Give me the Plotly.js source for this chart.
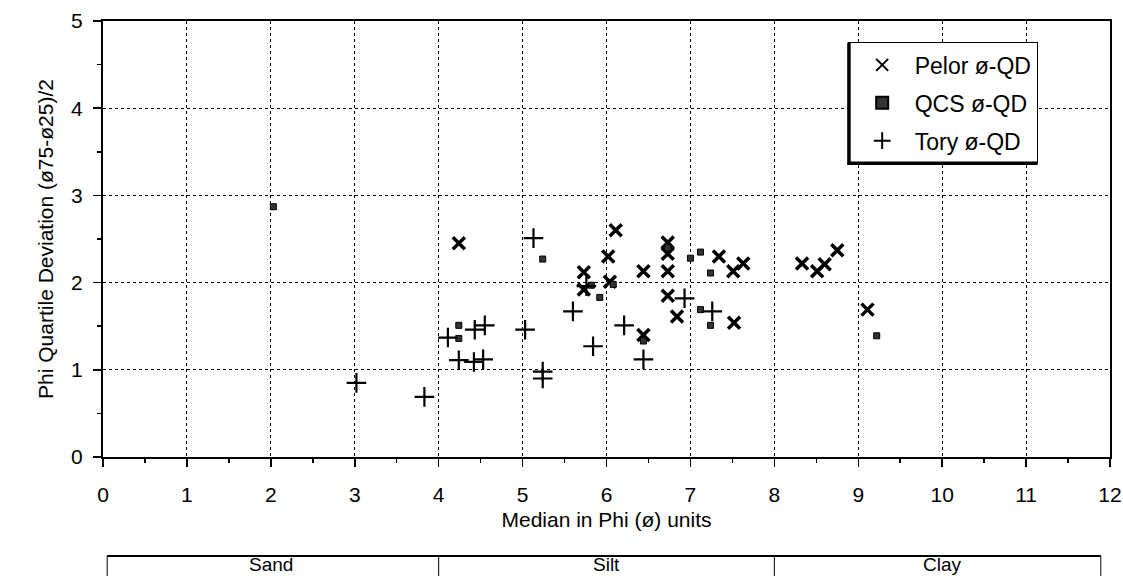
<!DOCTYPE html>
<html>
<head>
<meta charset="utf-8">
<script src="https://cdn.plot.ly/plotly-3.0.1.min.js"></script>
<style>html,body{margin:0;padding:0;background:#fff;}#chart{width:1123px;height:576px;}</style>
</head>
<body>
<div id="chart"></div>
<script>
// Pelor ø-QD
const pelorX = [4.24, 5.73, 5.73, 6.02, 6.11, 6.04, 6.44, 6.44, 6.73, 6.73, 6.73, 6.73, 6.84, 7.34, 7.51, 7.63, 7.52, 8.33, 8.51, 8.60, 8.75, 9.11];
const pelorY = [2.45, 2.12, 1.92, 2.30, 2.60, 2.01, 2.13, 1.40, 2.46, 2.33, 2.13, 1.85, 1.61, 2.30, 2.13, 2.22, 1.54, 2.22, 2.13, 2.21, 2.37, 1.69];
// QCS ø-QD
const qcsX = [2.03, 4.24, 4.24, 5.24, 5.82, 5.92, 6.08, 6.44, 6.73, 7.00, 7.12, 7.24, 7.12, 7.24, 9.22];
const qcsY = [2.87, 1.51, 1.36, 2.27, 1.97, 1.83, 1.98, 1.33, 2.40, 2.28, 2.35, 2.11, 1.69, 1.51, 1.39];
// Tory ø-QD
const toryX = [3.02, 3.83, 4.11, 4.24, 4.42, 4.53, 4.43, 4.55, 5.03, 5.13, 5.24, 5.24, 5.60, 5.76, 5.84, 6.21, 6.44, 6.93, 7.26];
const toryY = [0.85, 0.69, 1.37, 1.11, 1.09, 1.12, 1.46, 1.51, 1.46, 2.51, 0.98, 0.90, 1.67, 1.96, 1.27, 1.51, 1.12, 1.82, 1.67];

const seriesNames = ["Pelor ø-QD", "QCS ø-QD", "Tory ø-QD"];
const xTicks = [0,1,2,3,4,5,6,7,8,9,10,11,12];
const yTicks = [0,1,2,3,4,5];
const bandLabels = ["Sand", "Silt", "Clay"];
const bandCenters = [2, 6, 10];
const bandEdges = [0.05, 4, 8, 11.89];

const FONT = "Liberation Sans, Arial, Helvetica, sans-serif";

const traces = [
  {x: pelorX, y: pelorY, name: seriesNames[0], legendgroup: "a", type: "scatter", mode: "markers",
   marker: {symbol: "x-thin", size: 12, color: "#000", line: {width: 3.5, color: "#000"}}},
  {x: qcsX, y: qcsY, name: seriesNames[1], legendgroup: "b", type: "scatter", mode: "markers",
   marker: {symbol: "square", size: 6, color: "#333", line: {width: 1, color: "#000"}}},
  {x: toryX, y: toryY, name: seriesNames[2], legendgroup: "c", type: "scatter", mode: "markers",
   marker: {symbol: "cross-thin", size: 14, color: "#000", line: {width: 2.2, color: "#000"}}}
];

const shapes = [];
const annotations = [];
const yTop = -0.227, yBot = -0.32;
shapes.push({type: "line", xref: "x", yref: "paper", x0: bandEdges[0], x1: bandEdges[3], y0: yTop, y1: yTop, line: {color: "#000", width: 2}});
for (let i = 0; i < bandEdges.length; i++) {
  shapes.push({type: "line", xref: "x", yref: "paper", x0: bandEdges[i], x1: bandEdges[i], y0: yTop, y1: yBot, line: {color: "#000", width: 1}});
}
for (let i = 0; i < bandLabels.length; i++) {
  annotations.push({xref: "x", yref: "paper", x: bandCenters[i], y: -0.247, text: bandLabels[i], showarrow: false,
    font: {family: FONT, size: 19, color: "#000"}, yanchor: "middle"});
}

const layout = {
  width: 1123, height: 576,
  margin: {l: 103, r: 13, t: 21, b: 119, pad: 0},
  paper_bgcolor: "#fff", plot_bgcolor: "#fff",
  font: {family: FONT, size: 21, color: "#000"},
  showlegend: true,
  legend: {x: 0.74, y: 0.952, xanchor: "left", yanchor: "top", bgcolor: "#fff",
    bordercolor: "#000", borderwidth: 1.5, font: {family: FONT, size: 23, color: "#000"},
    tracegroupgap: 5, itemsizing: "constant", itemwidth: 55},
  xaxis: {
    range: [0, 12], tickvals: xTicks, ticktext: xTicks.map(String),
    showgrid: true, gridcolor: "#000", griddash: "dot", gridwidth: 1,
    showline: true, linecolor: "#000", linewidth: 2, mirror: true,
    ticks: "outside", ticklen: 8, tickwidth: 1.5, tickcolor: "#000",
    minor: {dtick: 0.5, ticks: "outside", ticklen: 4, tickwidth: 1.5, tickcolor: "#000", showgrid: false},
    zeroline: false, ticklabelstandoff: 10,
    tickfont: {family: FONT, size: 21, color: "#000"},
    title: {text: "Median in Phi (ø) units", font: {family: FONT, size: 21, color: "#000"}, standoff: 7}
  },
  yaxis: {
    range: [0, 5], tickvals: yTicks, ticktext: yTicks.map(String),
    showgrid: true, gridcolor: "#000", griddash: "dot", gridwidth: 1,
    showline: true, linecolor: "#000", linewidth: 2, mirror: true,
    ticks: "outside", ticklen: 8, tickwidth: 1.5, tickcolor: "#000",
    minor: {dtick: 0.5, ticks: "outside", ticklen: 4, tickwidth: 1.5, tickcolor: "#000", showgrid: false},
    zeroline: false, ticklabelstandoff: 6,
    tickfont: {family: FONT, size: 21, color: "#000"},
    title: {text: "Phi Quartile Deviation (ø75-ø25)/2", font: {family: FONT, size: 21, color: "#000"}, standoff: 12}
  },
  shapes: shapes,
  annotations: annotations
};

Plotly.newPlot("chart", traces, layout, {displayModeBar: false, staticPlot: true}).then(function(gd){
  // thick left/bottom edges on legend box like the reference
  const bg = gd.querySelector('.legend .bg');
  if (bg) {
    const bb = bg.getBBox();
    const lg = gd.querySelector('.legend');
    const ns = "http://www.w3.org/2000/svg";
    const p = document.createElementNS(ns, "path");
    p.setAttribute("d", "M" + (bb.x) + "," + (bb.y) + " L" + (bb.x) + "," + (bb.y + bb.height) + " L" + (bb.x + bb.width) + "," + (bb.y + bb.height));
    p.setAttribute("stroke", "#000"); p.setAttribute("stroke-width", "3.5"); p.setAttribute("fill", "none");
    lg.appendChild(p);
  }
});
</script>
</body>
</html>
